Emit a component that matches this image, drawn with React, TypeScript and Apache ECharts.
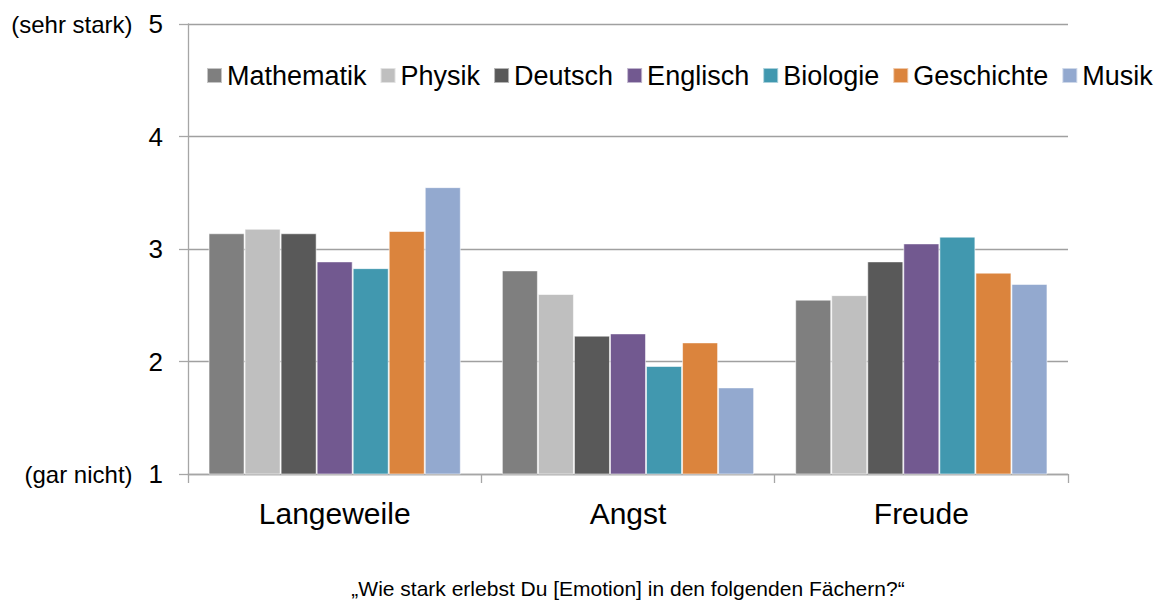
import React, { useEffect, useRef } from "react";
import * as echarts from "echarts";

const categories = ["Langeweile", "Angst", "Freude"];
const subjects = ["Mathematik", "Physik", "Deutsch", "Englisch", "Biologie", "Geschichte", "Musik"];
const mathematik = [3.14, 2.81, 2.55];
const physik = [3.18, 2.6, 2.59];
const deutsch = [3.14, 2.23, 2.89];
const englisch = [2.89, 2.25, 3.05];
const biologie = [2.83, 1.96, 3.11];
const geschichte = [3.16, 2.17, 2.79];
const musik = [3.55, 1.77, 2.69];
const seriesValues = [mathematik, physik, deutsch, englisch, biologie, geschichte, musik];
const colors = ["#7f7f7f", "#bfbfbf", "#595959", "#725990", "#4198af", "#db843d", "#93a9cf"];
const yTop = "(sehr stark)";
const yBottom = "(gar nicht)";
const xName = "\u201EWie stark erlebst Du [Emotion] in den folgenden F\u00E4chern?\u201C";

const FONT = "'Liberation Sans', Arial, sans-serif";

export default function App() {
  const ref = useRef<HTMLDivElement>(null);
  useEffect(() => {
    if (!ref.current) return;
    const chart = echarts.init(ref.current, undefined, { renderer: "svg" });
    chart.setOption({
      animation: false,
      textStyle: { fontFamily: FONT },
      grid: { left: 188, right: 86, top: 24, bottom: 119, containLabel: false },
      legend: {
        data: subjects,
        left: 206,
        top: 62,
        padding: 0,
        itemWidth: 15,
        itemHeight: 15,
        itemGap: 13,
        icon: "rect",
        textStyle: { fontSize: 27, color: "#000", fontFamily: FONT },
      },
      xAxis: {
        type: "category",
        data: categories,
        name: xName,
        nameLocation: "middle",
        nameGap: 104,
        nameTextStyle: { fontSize: 21, color: "#000", fontFamily: FONT },
        axisLine: { lineStyle: { color: "#a6a6a6", width: 1.3 } },
        axisTick: { show: true, length: 9, lineStyle: { color: "#a6a6a6", width: 1.3 } },
        axisLabel: { fontSize: 30, color: "#000", margin: 24, fontFamily: FONT },
      },
      yAxis: {
        type: "value",
        min: 1,
        max: 5,
        interval: 1,
        axisLine: { show: true, lineStyle: { color: "#a6a6a6", width: 1.3 } },
        axisTick: { show: true, length: 9, lineStyle: { color: "#a6a6a6", width: 1.3 } },
        splitLine: { lineStyle: { color: "#a0a0a0", width: 1.3 } },
        axisLabel: {
          margin: 25,
          color: "#000",
          fontFamily: FONT,
          formatter: (v: number) =>
            v === 5
              ? `{s|${yTop}}{n|5}`
              : v === 1
              ? `{s|${yBottom}}{n|1}`
              : `{n|${v}}`,
          rich: {
            s: { fontSize: 24, color: "#000", fontFamily: FONT, padding: [0, 16, 0, 0] },
            n: { fontSize: 26, color: "#000", fontFamily: FONT },
          },
        },
      },
      series: subjects.map((name, i) => ({
        name,
        type: "bar",
        data: seriesValues[i],
        barGap: "0%",
        barCategoryGap: "14%",
        itemStyle: { color: colors[i], borderColor: "rgba(255,255,255,0.55)", borderWidth: 1 },
      })),
    });
    return () => chart.dispose();
  }, []);
  return (
    <div
      ref={ref}
      style={{ position: "fixed", left: 0, top: 0, width: 1154, height: 604, background: "#fff" }}
    />
  );
}
